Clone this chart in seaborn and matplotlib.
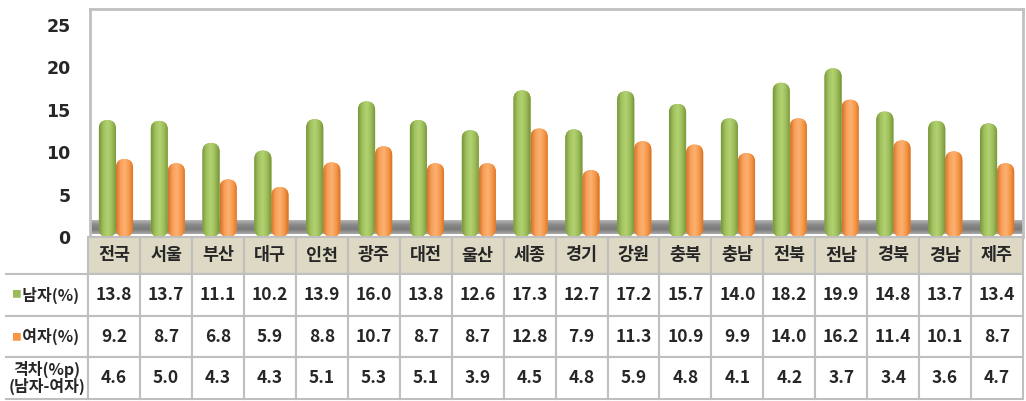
import numpy as np
import pandas as pd
import matplotlib.pyplot as plt
import seaborn as sns
from matplotlib.patches import FancyBboxPatch
from matplotlib.colors import LinearSegmentedColormap, to_hex

regions = ['전국', '서울', '부산', '대구', '인천', '광주', '대전', '울산', '세종',
           '경기', '강원', '충북', '충남', '전북', '전남', '경북', '경남', '제주']
male = [13.8, 13.7, 11.1, 10.2, 13.9, 16.0, 13.8, 12.6, 17.3,
        12.7, 17.2, 15.7, 14.0, 18.2, 19.9, 14.8, 13.7, 13.4]
female = [9.2, 8.7, 6.8, 5.9, 8.8, 10.7, 8.7, 8.7, 12.8,
          7.9, 11.3, 10.9, 9.9, 14.0, 16.2, 11.4, 10.1, 8.7]
gap = [4.6, 5.0, 4.3, 4.3, 5.1, 5.3, 5.1, 3.9, 4.5,
       4.8, 5.9, 4.8, 4.1, 4.2, 3.7, 3.4, 3.6, 4.7]
series = ['남자(%)', '여자(%)']
row_labels = ['  남자(%)', '  여자(%)', '격차(%p)\n(남자-여자)']
yticks = [0, 5, 10, 15, 20, 25]

sns.set_theme(style='white')
plt.rcParams['font.family'] = ['Noto Sans CJK KR', 'DejaVu Sans']

green, orange = '#9bbb59', '#f79646'
cmaps = {
    green: LinearSegmentedColormap.from_list('g', ['#78963a', '#a2c260', '#b3d271', '#9bbb59', '#718f35']),
    orange: LinearSegmentedColormap.from_list('o', ['#d2742c', '#f99f58', '#fbb274', '#f79646', '#cf6f26']),
}

df = pd.DataFrame({'지역': regions * 2,
                   '성별': [series[0]] * len(regions) + [series[1]] * len(regions),
                   '값': male + female})

W, H = 1026, 401
fig = plt.figure(figsize=(W / 100, H / 100), dpi=100)
ax = fig.add_axes([90 / W, 1 - 237 / H, 933 / W, 228 / H])
sns.barplot(data=df, x='지역', y='값', hue='성별', palette=[green, orange],
            width=0.66, gap=0, legend=False, saturation=1, linewidth=0, ax=ax)

ymax = 26.9
asp = (933 / 18) / (228 / ymax)

# rounded, shaded "cylinder" bars
for bar in list(ax.patches):
    x, y = bar.get_xy()
    w, h = bar.get_width(), bar.get_height()
    col = to_hex(bar.get_facecolor())
    rb = FancyBboxPatch((x, y), w, h, boxstyle=f'round,pad=0,rounding_size={w / 2}',
                        mutation_aspect=asp, facecolor=col, edgecolor='none', zorder=3)
    ax.add_patch(rb)
    bar.remove()
    im = ax.imshow(np.linspace(0, 1, 64)[None, :], cmap=cmaps[col], aspect='auto',
                   extent=(x, x + w, y, y + h), zorder=3.1)
    im.set_clip_path(rb)

# grey floor
floor = LinearSegmentedColormap.from_list('f', ['#b4b4b4', '#8a8a8a', '#7a7a7a', '#a8a8a8'])
ax.imshow(np.linspace(0, 1, 32)[:, None], cmap=floor, aspect='auto',
          extent=(-0.5, 17.5, 0.3, 1.9), zorder=2)

ax.set_xlim(-0.5, 17.5)
ax.set_ylim(0, ymax)
ax.set_yticks(yticks)
ax.set_xticks([])
ax.set_xlabel('')
ax.set_ylabel('')
ax.tick_params(axis='y', length=0, pad=14, labelsize=12.5)
for t in ax.get_yticklabels():
    t.set_fontweight('heavy')
    t.set_family('DejaVu Sans')
for s in ['top', 'left', 'right']:
    ax.spines[s].set_color('#c0c0c0')
    ax.spines[s].set_linewidth(2)
ax.spines['bottom'].set_visible(False)

# data table
tax = fig.add_axes([5 / W, 2 / H, 1018 / W, 162 / H])
tax.axis('off')
cell_text = [[''] + regions] + [[lab] + [f'{v:.1f}' for v in vals]
                                for lab, vals in zip(row_labels, [male, female, gap])]
col_w = [83 / 1018] + [933 / 18 / 1018] * len(regions)
tbl = tax.table(cellText=cell_text, cellLoc='center', colWidths=col_w, bbox=[0, 0, 1, 1])
tbl.auto_set_font_size(False)
heights = [37, 42, 41, 42]
for (r, c), cell in tbl.get_celld().items():
    cell.set_height(heights[r] / 162)
    cell.set_edgecolor('#bfbfbf')
    cell.set_linewidth(1.5)
    txt = cell.get_text()
    txt.set_fontsize(12.5)
    txt.set_fontweight('bold')
    if r == 0:
        cell.set_facecolor('#ddd9c4')
    if r == 0 and c == 0:
        cell.set_facecolor('white')
        cell.visible_edges = ''
    elif c == 0:
        cell.visible_edges = 'BRT'
        txt.set_fontsize(11.5)
        txt.set_linespacing(0.95)

# legend markers in row labels
fig.text(16 / W, 1 - 294 / H, '■', color=green, fontsize=7, ha='center', va='center')
fig.text(16 / W, 1 - 337 / H, '■', color=orange, fontsize=7, ha='center', va='center')

fig.savefig('out.png', dpi=100)
